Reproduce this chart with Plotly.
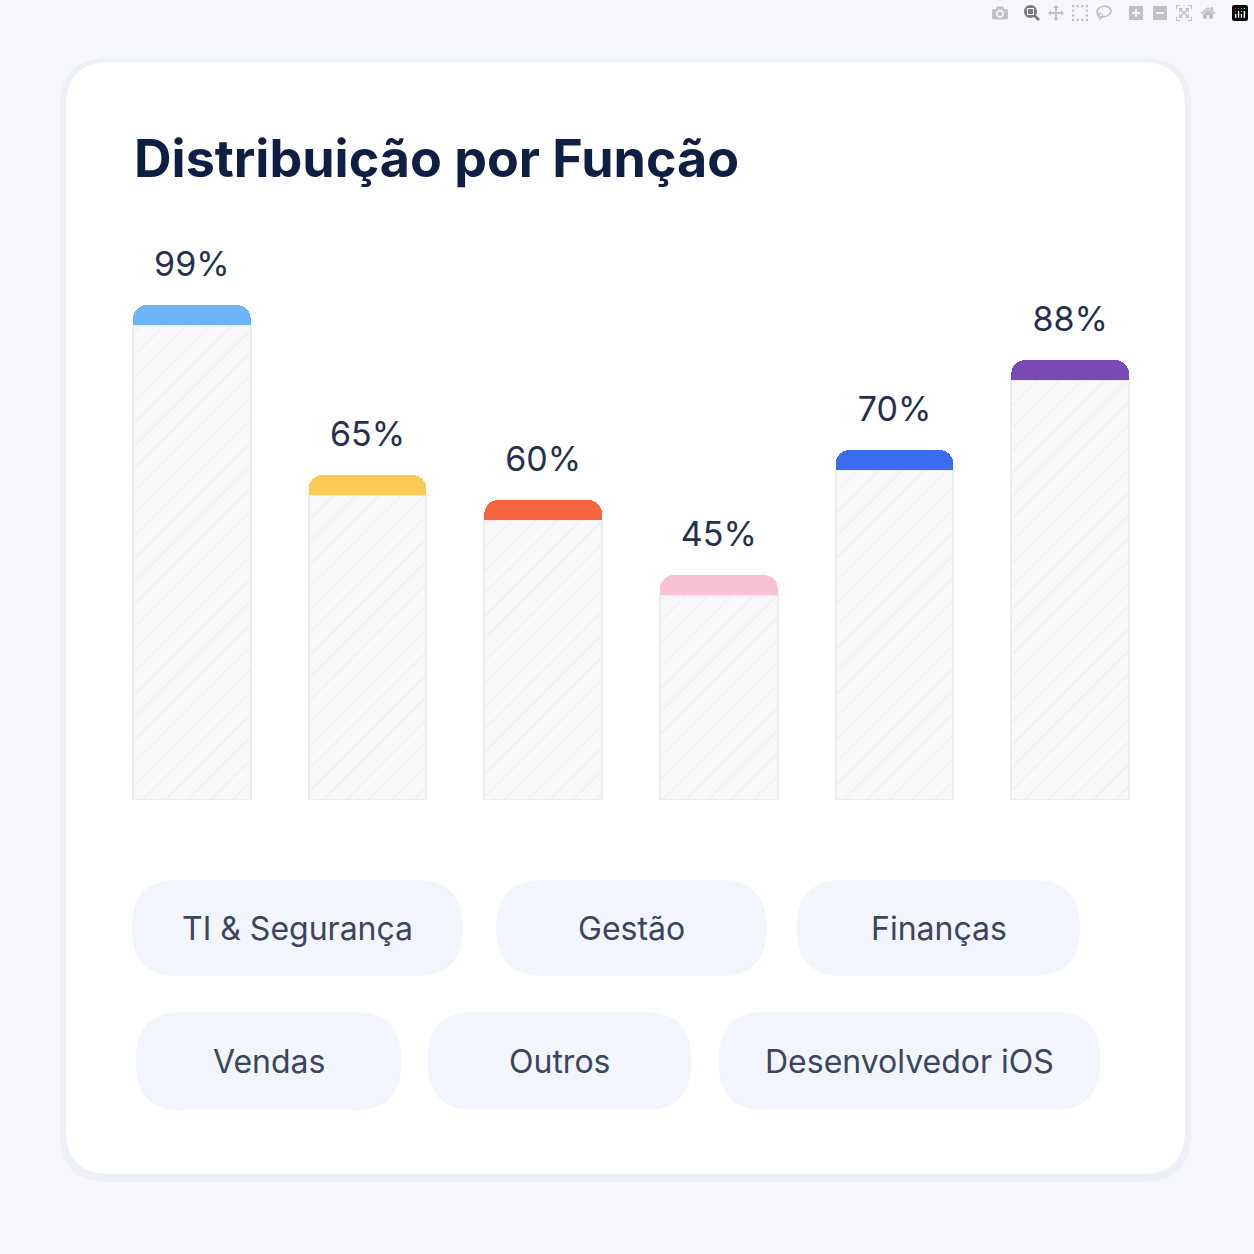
import plotly.graph_objects as go

categories = ["TI & Segurança", "Gestão", "Finanças", "Vendas", "Outros", "Desenvolvedor iOS"]
values = [99, 65, 60, 45, 70, 88]
labels = ["99%", "65%", "60%", "45%", "70%", "88%"]
colors = ["#6db3f8", "#fdcb55", "#f5643f", "#f9c1d5", "#3b6cf0", "#7a4bb6"]
cap = 4

W = H = 1254
def px(x): return x / W
def py(y): return 1 - y / H

def rrect(x0, y0, x1, y1, r):
    X = lambda v: px(v); Y = lambda v: py(v)
    return (f"M {X(x0+r)} {Y(y0)} L {X(x1-r)} {Y(y0)} Q {X(x1)} {Y(y0)} {X(x1)} {Y(y0+r)} "
            f"L {X(x1)} {Y(y1-r)} Q {X(x1)} {Y(y1)} {X(x1-r)} {Y(y1)} L {X(x0+r)} {Y(y1)} "
            f"Q {X(x0)} {Y(y1)} {X(x0)} {Y(y1-r)} L {X(x0)} {Y(y0+r)} Q {X(x0)} {Y(y0)} {X(x0+r)} {Y(y0)} Z")

fig = go.Figure()
fig.add_trace(go.Bar(
    x=categories, y=[v - cap for v in values],
    marker=dict(color="#f8f8fa", line=dict(color="#ececf0", width=2),
                pattern=dict(shape="/", fgcolor="#e4e4e8", bgcolor="#f8f8fa", size=16, solidity=0.08)),
    hoverinfo="skip"))
fig.add_trace(go.Bar(x=categories, y=[cap] * len(values), marker=dict(color=colors, line=dict(width=0)),
                     hoverinfo="skip"))
fig.add_trace(go.Scatter(x=categories, y=[v + 7.5 for v in values], text=labels, mode="text",
                         textfont=dict(size=34, color="#24304d", family="Inter"), cliponaxis=False,
                         hoverinfo="skip"))

shapes = [
    dict(type="path", path=rrect(60, 58, 1191, 1182, 48), xref="paper", yref="paper",
         fillcolor="rgba(220,225,238,0.35)", line=dict(width=0), layer="below"),
    dict(type="path", path=rrect(66, 62, 1185, 1174, 44), xref="paper", yref="paper",
         fillcolor="white", line=dict(width=0), layer="below"),
]
pills = [(132, 880, 462, 976), (496, 880, 766, 976), (797, 880, 1080, 976),
         (136, 1012, 401, 1110), (428, 1012, 691, 1110), (719, 1012, 1100, 1110)]
annotations = [dict(text="<b>Distribuição por Função</b>", x=px(132), y=py(158), xref="paper", yref="paper",
                    xanchor="left", yanchor="middle", showarrow=False,
                    font=dict(size=52, color="#0f1f44", family="Inter"))]
for cat, (x0, y0, x1, y1) in zip(categories, pills):
    shapes.append(dict(type="path", path=rrect(x0, y0, x1, y1, 46), xref="paper", yref="paper",
                       fillcolor="#f3f5fc", line=dict(width=0), layer="below"))
    annotations.append(dict(text=cat, x=px((x0 + x1) / 2), y=py((y0 + y1) / 2), xref="paper", yref="paper",
                            xanchor="center", yanchor="middle", showarrow=False,
                            font=dict(size=32, color="#3a4560", family="Inter")))

fig.update_layout(
    width=W, height=H, margin=dict(l=0, r=0, t=0, b=0),
    paper_bgcolor="#f6f7fb", plot_bgcolor="rgba(0,0,0,0)",
    barmode="stack", bargap=0.33, barcornerradius=14, showlegend=False,
    xaxis=dict(domain=[px(104), px(1158)], visible=False),
    yaxis=dict(domain=[py(800), py(250)], range=[0, 110], visible=False),
    shapes=shapes, annotations=annotations,
)
fig.write_html("out.html", post_script="document.body.style.margin='0';document.body.style.overflow='hidden';")
